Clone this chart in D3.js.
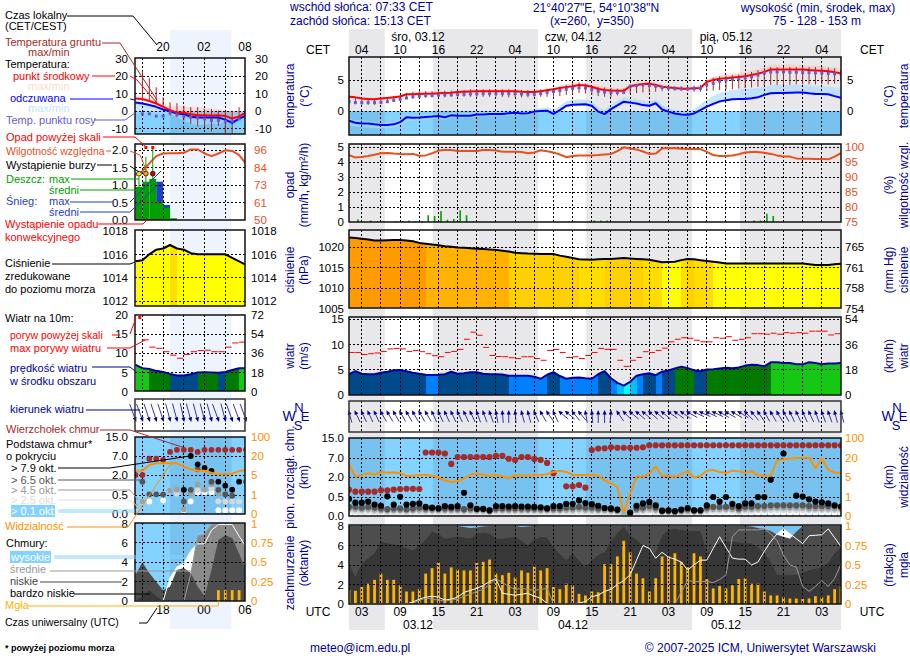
<!DOCTYPE html>
<html lang="pl">
<head>
<meta charset="utf-8">
<title>Meteogram</title>
<script src="https://cdnjs.cloudflare.com/ajax/libs/d3/7.8.5/d3.min.js"></script>
<style>
  body { margin: 0; background: #fff; }
  svg { display: block; font-family: "Liberation Sans", Arial, sans-serif; font-size: 12px; }
</style>
</head>
<body>
<svg id="chart" width="910" height="660"></svg>
<script>
// main forecast, one value per hour, first value is 01 UTC 03.12
var tMean = [2.3,2.2,2.0,1.95,1.9,2.0,2.1,2.2,2.35,2.7,
  2.72,2.75,2.78,2.8,2.85,2.9,2.95,3.05,3.1,3.15,
  3.2,3.2,3.2,3.2,3.2,3.2,3.2,3.1,3.05,3.05,
  3.2,3.35,3.5,3.7,3.85,4.0,4.2,4.1,3.9,3.55,
  3.4,3.3,3.25,3.25,4.0,4.2,4.35,4.4,4.2,3.9,
  3.8,3.7,3.6,3.6,3.65,3.7,4.7,5.0,5.2,5.3,
  5.4,5.5,5.6,5.8,6.0,6.3,6.7,6.7,6.7,6.7,
  6.7,6.7,6.6,6.55,6.5,6.4,6.25,6.1];
var tMax = [2.5,2.4,2.2,2.1,2.1,2.2,2.3,2.4,2.5,2.9,
  3.0,3.1,3.2,3.2,3.1,3.1,3.1,3.2,3.3,3.4,
  3.5,3.5,3.5,3.5,3.5,3.5,3.4,3.3,3.3,3.2,
  3.4,3.6,3.8,4.1,4.3,4.5,4.6,4.5,4.3,4.1,
  3.9,3.8,3.7,3.7,4.4,4.6,4.8,4.8,4.6,4.3,
  4.1,4.0,3.9,3.9,4.0,4.1,5.1,5.5,5.8,6.0,
  6.1,6.2,6.3,6.5,6.7,7.0,7.4,7.5,7.5,7.5,
  7.4,7.4,7.3,7.3,7.2,7.1,7.0,6.9];
var tMin = [2.2,2.1,1.9,1.85,1.8,1.9,2.0,2.1,2.25,2.6,
  2.6,2.65,2.7,2.7,2.75,2.8,2.85,2.95,3.0,3.05,
  3.1,3.1,3.1,3.1,3.1,3.1,3.1,3.0,2.95,2.95,
  3.1,3.25,3.4,3.6,3.75,3.9,4.1,4.0,3.8,3.45,
  3.3,3.2,3.15,3.15,3.9,4.1,4.25,4.3,4.1,3.8,
  3.7,3.6,3.5,3.5,3.55,3.6,4.6,4.9,5.1,5.2,
  5.3,5.4,5.5,5.7,5.9,6.2,6.6,6.6,6.6,6.6,
  6.6,6.6,6.5,6.45,6.4,6.3,6.15,6.0];
var dew = [1.5,1.35,1.35,1.35,1.35,1.4,1.5,1.7,1.9,2.1,
  2.3,2.4,2.5,2.5,2.55,2.6,2.6,2.65,2.7,2.75,
  2.75,2.8,2.8,2.8,2.8,2.8,2.8,2.75,2.7,2.7,
  2.8,3.0,3.15,3.3,3.5,3.65,3.75,3.7,3.45,3.2,
  3.05,3.0,3.0,3.0,3.9,4.1,4.2,4.1,4.0,3.8,
  3.7,3.6,3.55,3.55,3.6,3.65,4.2,4.45,4.8,5.0,
  5.1,5.2,5.3,5.5,5.8,6.1,6.3,6.3,6.3,6.25,
  6.25,6.2,6.2,6.15,6.1,6.05,6.0,6.0];
var groundMax = [2.3,2.1,1.9,1.9,1.9,2.0,2.2,2.4,2.6,2.9,
  3.1,3.2,3.2,3.2,3.2,3.3,3.3,3.4,3.4,3.5,
  3.5,3.5,3.5,3.5,3.5,3.5,3.5,3.4,3.4,3.4,
  3.5,3.6,3.7,3.9,4.2,4.5,4.6,4.4,4.1,3.9,
  3.8,3.7,3.6,3.6,4.3,4.4,4.5,4.6,4.4,4.1,
  4.0,4.0,4.0,4.0,4.1,4.2,5.0,5.4,5.6,5.7,
  5.8,5.9,6.0,6.3,6.6,6.9,7.1,7.1,7.1,7.1,
  7.1,7.1,7.1,7.1,7.1,7.0,6.9,6.6];
var groundMin = [1.5,1.1,1.0,1.0,1.0,1.1,1.3,1.5,1.7,1.9,
  2.0,2.1,2.1,2.2,2.2,2.2,2.3,2.3,2.3,2.3,
  2.3,2.3,2.3,2.3,2.3,2.2,2.2,2.2,2.2,2.3,
  2.3,2.3,2.3,2.4,2.6,2.7,2.9,2.8,2.6,2.4,
  2.3,2.3,2.5,2.8,2.85,2.9,3.0,3.0,3.1,3.2,
  3.3,3.3,3.3,3.2,3.1,3.1,3.2,3.3,3.4,3.5,
  3.5,3.6,3.7,3.8,3.9,4.0,4.2,4.2,4.2,4.2,
  4.3,4.3,4.3,4.3,4.3,4.3,4.4,4.9];
var feels = [-1.55,-1.9,-2.0,-2.0,-2.15,-2.25,-2.25,-2.15,-1.8,-1.0,
  -1.1,-1.05,-0.95,-0.9,-0.8,-1.0,-0.7,-0.75,-0.75,-0.75,
  -0.55,-0.55,-0.5,-0.5,-0.5,-0.35,-0.27,-0.4,-0.35,-0.1,
  0.0,0.05,-0.45,0.15,0.85,1.0,1.05,1.1,0.85,-0.1,
  -0.5,0.3,0.9,1.5,1.35,1.2,0.95,0.85,1.25,0.25,
  -0.1,-0.4,-0.55,-0.6,-0.4,0.15,0.7,1.15,1.55,1.75,
  1.9,1.95,1.95,2.05,2.2,2.6,2.85,2.9,2.9,2.95,
  3.0,3.0,2.85,2.75,2.75,2.7,2.4,2.15];
var feelsMax = [-1.2,-1.5,-1.6,-1.6,-1.8,-1.9,-1.9,-1.7,-1.3,-0.6,
  -0.7,-0.6,-0.5,-0.5,-0.4,-0.6,-0.3,-0.3,-0.3,-0.3,
  -0.1,-0.1,0.0,0.0,0.0,0.1,0.2,0.1,0.1,0.3,
  0.5,0.6,0.2,0.8,1.6,1.8,1.9,1.9,1.6,0.6,
  0.2,1.0,1.6,2.2,2.0,1.9,1.6,1.5,1.9,1.0,
  0.5,0.2,0.0,0.0,0.3,1.1,1.8,2.4,2.9,3.2,
  3.4,3.5,3.5,3.6,3.7,3.9,4.1,4.2,4.2,4.2,
  4.2,4.2,4.1,4.0,4.0,3.9,3.8,3.6];
var feelsMin = [-2.3,-2.5,-2.6,-2.7,-2.8,-2.8,-2.8,-2.7,-2.4,-1.6,
  -1.6,-1.5,-1.4,-1.3,-1.2,-1.4,-1.1,-1.1,-1.1,-1.1,
  -0.9,-0.9,-0.8,-0.8,-0.8,-0.7,-0.6,-0.7,-0.7,-0.4,
  -0.3,-0.2,-0.8,-0.2,0.6,0.8,0.8,0.9,0.6,-0.4,
  -0.8,0.0,0.6,1.2,1.1,1.0,0.7,0.6,1.0,0.0,
  -0.3,-0.6,-0.8,-0.8,-0.6,-0.1,0.5,0.9,1.3,1.5,
  1.7,1.8,1.8,1.9,2.0,2.4,2.7,2.7,2.7,2.8,
  2.8,2.8,2.7,2.6,2.6,2.5,2.2,1.9];
var rh = [97.3,96.5,96.7,97.0,97.4,97.9,98.0,97.8,97.7,97.6,
  97.7,97.1,97.2,97.9,98.8,99.0,99.0,98.7,98.7,98.7,
  98.7,99.0,99.0,98.8,98.4,98.4,98.4,98.3,97.9,98.2,
  98.9,98.6,98.2,97.5,96.6,97.0,97.2,97.2,97.2,97.3,
  97.5,97.7,98.6,99.9,99.5,99.2,98.5,97.7,97.8,99.5,
  99.7,99.6,99.4,99.3,99.3,99.3,98.4,97.3,97.0,97.0,
  97.2,97.6,98.2,98.3,98.3,98.1,97.7,97.2,96.8,96.8,
  96.2,96.1,96.1,96.0,96.0,95.9,96.8,98.0];
var rain = [0,.18,0,.1,.05,.05,0,.05,.05,.1,
  .05,.05,.45,.4,.73,.15,.2,.78,.45,.05,
  .02,.02,0,0,0,0,0,0,0,0,
  0,0,0,.02,.02,.02,.02,.02,.1,.1,
  .1,.02,0,0,0,0,0,0,0,0,
  0,0,0,0,0,0,0,0,0,0,
  0,0,.02,.1,.1,.55,.4,0,0,0,
  0,0,0,0,0,0,0,0];
var press = [1022.3,1022.2,1022.0,1021.8,1021.6,1021.6,1021.65,1021.7,1021.7,1021.6,
  1021.4,1021.0,1020.8,1020.6,1020.4,1020.2,1020.05,1019.9,1019.8,1019.7,
  1019.6,1019.5,1019.4,1019.3,1019.1,1018.9,1018.6,1018.5,1018.4,1018.35,
  1018.3,1018.3,1018.3,1017.9,1017.6,1017.3,1017.0,1016.95,1016.9,1017.0,
  1017.1,1017.1,1017.2,1017.3,1017.2,1017.1,1017.0,1016.9,1016.6,1016.3,
  1016.35,1016.4,1016.8,1017.1,1017.0,1016.8,1016.6,1016.4,1016.2,1016.0,
  1016.0,1016.0,1016.0,1016.0,1016.0,1016.0,1016.0,1016.0,1016.0,1016.0,
  1016.0,1016.0,1015.8,1015.6,1015.6,1015.6,1015.8,1015.9];
var gust = [8.4,8.4,8.0,8.15,8.3,8.6,9.1,9.2,9.1,8.6,
  8.8,8.55,8.15,7.75,7.55,8.4,8.6,9.0,11.0,12.4,
  11.8,9.4,7.8,7.6,7.55,7.35,7.2,7.55,7.55,7.2,
  6.85,8.8,9.0,8.4,7.4,7.55,7.2,7.8,8.4,9.2,
  9.0,9.0,6.85,5.65,6.85,7.4,8.55,8.4,8.8,9.25,
  10.5,11.0,11.3,11.2,10.8,10.5,10.5,11.3,11.2,11.5,
  10.8,11.0,11.3,12.1,12.1,12.0,12.2,12.0,12.3,12.2,
  12.3,12.2,12.6,12.6,12.6,11.85,12.1,12.2];
var wind = [4.1,4.7,4.2,4.1,4.1,4.4,4.6,4.9,4.95,4.7,
  4.4,4.2,3.98,3.95,4.0,4.1,4.6,4.2,4.3,4.5,
  4.5,4.2,4.1,4.1,4.05,3.8,3.8,3.8,3.8,3.6,
  3.2,4.0,4.5,3.75,3.2,3.4,3.45,3.3,3.2,4.1,
  4.7,3.3,2.4,1.85,2.6,3.8,4.1,4.3,3.9,4.6,
  4.85,5.25,5.6,5.3,4.9,4.7,5.05,5.1,5.25,5.4,
  5.3,5.45,5.8,5.95,5.9,5.65,6.45,6.45,6.3,6.3,
  6.05,6.05,6.45,6.3,6.05,6.2,6.2,6.3];
var windDir = [-15,-25,-25,-25,-25,-30,-30,-30,-30,-30,
  -30,-30,-30,-25,-25,-25,-25,-25,-25,-25,
  -20,-20,-20,-10,-5,0,-5,-15,-15,-25,
  -30,-35,-25,-50,-50,-40,-40,-10,-5,0,
  0,5,-35,-45,-50,-50,-50,-50,-50,-50,
  -55,-55,-55,-60,-65,-65,-65,-65,-60,-60,
  -60,-60,-45,-40,-35,-30,-30,-30,-30,-25,
  -25,-25,-25,-20,-20,-20,-15,-15];
var cloudTop = [1.05,.9,.9,.9,.9,1.0,1.0,1.05,1.1,1.12,
  1.12,1.1,9.2,9.2,9.2,8.8,5.45,7.4,7.4,7.4,
  7.4,7.4,7.4,7.9,7.9,6.8,6.5,7.4,7.4,6.75,
  6.5,5.7,3.0,null,1.3,1.3,1.4,1.2,10.2,10.8,
  10.9,11.3,11.1,11.1,11.1,11.1,11.3,12.1,12.1,12.1,
  12.1,12.1,12.1,12.1,12.1,12.1,12.1,12.1,12.1,12.1,
  12.1,12.1,12.1,12.1,12.1,12.1,12.1,12.1,12.1,12.1,
  12.1,12.1,12.1,12.1,12.1,12.1,12.1,12.1];
var base79 = [.45,.35,.35,.38,.3,.27,.55,.3,.52,.3,
  .32,.33,.24,.22,.2,.26,.24,.26,.82,.28,
  .19,.19,.15,.26,.26,.25,.26,.25,.25,.24,
  .23,.2,.26,.26,.32,.32,.41,.34,.31,.27,
  .21,.2,.17,null,.09,.27,.33,.37,.28,.14,
  .15,.13,.17,.21,.15,.15,.28,.5,.38,.5,
  .32,.26,.33,.33,.5,.5,1.8,null,8.8,null,
  .6,.53,.44,.38,.36,.33,.28,.25];
var base65 = [.24,.24,.22,.24,.22,.2,.18,.2,.2,.18,
  .2,.22,.2,.2,.2,.2,.2,.2,.18,.2,
  .18,.18,.15,.2,.2,.2,.2,.2,.2,.2,
  .2,.2,.2,.2,.22,.22,.24,.22,.22,.2,
  .2,.18,.16,null,.08,.2,.22,.26,.22,.14,
  .14,.12,.15,.18,.15,.15,.22,.24,.24,.24,
  .24,.2,.24,.24,.26,.26,.28,.28,.28,.28,
  .28,.28,.26,.26,.26,.26,.26,.24];
var base45 = [.19,.19,.18,.19,.17,.16,.15,.16,.16,.15,
  .16,.17,.16,.16,.16,.16,.16,.16,.15,.16,
  .15,.15,.12,.16,.16,.16,.16,.16,.16,.16,
  .16,.16,.16,.16,.17,.17,.19,.17,.17,.16,
  .16,.15,.13,null,.06,.16,.17,.2,.17,.11,
  .11,.1,.12,.14,.12,.12,.17,.19,.19,.19,
  .19,.16,.19,.19,.2,.2,.22,.22,.22,.22,
  .22,.22,.2,.2,.2,.2,.2,.19];
var base25 = [.13,.13,.12,.13,.12,.11,.1,.11,.11,.1,
  .11,.12,.11,.11,.11,.11,.11,.11,.1,.11,
  .1,.1,.09,.11,.11,.11,.11,.11,.11,.11,
  .11,.11,.11,.11,.12,.12,.13,.12,.12,.11,
  .11,.1,.09,null,.04,.11,.12,.14,.12,.08,
  .08,.07,.08,.1,.08,.08,.12,.14,.14,.14,
  .14,.11,.14,.14,.15,.15,.16,.16,.16,.16,
  .16,.16,.15,.15,.15,.15,.15,.14];
var base01 = [.07,.07,.06,.07,.06,.06,.05,.06,.06,.05,
  .06,.06,.06,.06,.06,.06,.06,.06,.05,.06,
  .05,.05,.05,.06,.06,.06,.06,.06,.06,.06,
  .06,.06,.06,.06,.06,.06,.07,.06,.06,.06,
  .06,.05,.05,null,.02,.06,.06,.07,.06,.04,
  .04,.04,.04,.05,.04,.04,.06,.07,.07,.07,
  .07,.06,.07,.07,.08,.08,.08,.08,.08,.08,
  .08,.08,.08,.08,.08,.08,.08,.07];
var visibility = [15.3,5.2,6.5,8,7,8.9,8.4,8.6,8,5.8,
  6,6.5,6.5,6,4.9,4.3,4,4.1,4.7,7,
  7.5,6.5,6,6.5,5.6,4.7,6.5,6.2,6.2,6.3,
  6.5,7.2,9,10,9,6.8,6.6,6.5,6.5,6.2,
  4.3,3.8,3,.15,1.7,5.3,5.3,7.6,13.3,5.8,
  6,5.1,7.3,9.6,4.9,6,10,10.5,9,8.1,
  10,9.5,8.4,9.5,6.5,6,6,18,19,19.5,
  20,20.5,21,12,20,10.5,8.4,8.4];
var cloudHigh = [0,0,0,0,0,0,0,0,0,0,
  .2,.5,.7,.8,.7,.4,.5,.7,1.2,1.4,
  1.6,1.9,2.3,2.6,1.1,1.0,.9,1.0,1.1,.8,
  .6,.05,0,0,0,0,.1,.25,.75,.9,
  1.3,1.5,2,2.4,3,4.5,6,5.7,4.7,5.3,
  4.8,4.6,4.3,3.5,4,4.5,4.5,5.7,6.9,5.8,
  4.7,4.6,4.6,4,4.3,5.4,6.4,7.2,7.7,7.2,
  6.7,6.2,7,7.05,7.1,7.7,6.8,5.9];
var cloudMid = [0,0,0,0,0,0,0,0,0,0,
  0,.4,.6,.5,.4,.3,.4,.5,.8,1.0,
  1.3,1.5,2,2.6,2.2,1.8,1.5,1.6,1.5,1.4,
  1.5,1.6,0,0,0,0,0,0,0,0,
  0,0,0,0,0,0,0,0,0,0,
  0,0,1.2,2.4,2.3,2.3,2.3,2.2,2.5,3,
  6.9,7.6,7.6,7.6,7.6,7.7,7.2,6.5,5,4,
  3.8,1.8,1.3,1.8,2.4,1.8,2.6,4.1];
var cloudLow = [8,8,8,8,8,8,8,8,8,8,
  8,8,8,8,8,8,8,8,7.9,7.8,
  7.85,7.95,8,8,8,8,8,7.9,7.95,8,
  8,8,8,8,8,8,8,8,8,8,
  8,8,8,8,8,8,8,8,8,8,
  8,8,8,8,8,8,8,8,8,8,
  8,8,8,7.95,7.8,7.7,7.5,7.1,6.9,6.7,
  7.4,8,8,8,8,8,8,8];
var cloudVeryLow = [4.1,2.8,4.1,4.7,5.2,6.4,6.2,6.1,6,5.7,
  5.5,6,6.6,7.4,7.2,6.7,6.8,6.9,6.8,6.7,
  7.2,7.3,7.2,6.7,6.7,6.8,6.9,6.5,6,6.6,
  6.9,6.8,5.8,5.1,4.5,5.2,4.4,3.8,4.5,5,
  5.3,6.4,7.3,7.9,7,6.6,6,5.6,5.2,7,
  7.6,7.7,7.6,7.5,7.5,7.5,5.2,5.8,6.3,6.4,
  6.4,6.3,6.2,6.2,5.8,5.2,4.3,3,3,3,
  3,3.2,3.5,3.6,3.8,4.2,5.2,5.8];
var fog = [.18,.17,.22,.26,.31,.39,.31,.31,.24,.16,
  .16,.19,.39,.46,.53,.39,.47,.44,.43,.43,
  .53,.54,.57,.39,.37,.4,.34,.43,.4,.48,
  .43,.46,.22,.19,.26,.24,.13,.11,.16,.15,
  .51,.51,.61,.81,.66,.39,.33,.16,.33,.61,
  .61,.65,.54,.47,.65,.61,.32,.2,.23,.2,
  .24,.32,.33,.26,.26,.16,.11,.11,.085,.07,
  .07,.065,.07,.1,.085,.11,.19,.22];

// legend panel, the last observed hours
var nowTMean = [7.3,6.9,5.8,4.4,2.5,.6,-.8,-.8,-1.7,-2.3,-2.3,-2.5,-2.3,-2.7,-4.2,-3,-.8];
var nowTMax = [9.4,8.3,7.2,5.8,4.4,3.4,3,2.6,2.3,2.3,2,1.5,1.2,.4,0,0,.5];
var nowTMin = [6.5,6,5,3.5,1.5,0,-1.5,-1.5,-2.5,-3,-3,-3.2,-3,-3.5,-5,-4,-1.5];
var nowDew = [null,-1.5,-1.5,-2.8,-2.8,-.9,-2,-3,-3.4,-3.8,-4.4,-5.3,-5.3,-5.7,-5.7,-4.4,-4.4];
var nowGroundMax = [null,23,19,13.7,8,5.1,4.6,3.1,2.3,2.3,1.3,1.3,.3,.3,.3,2.3,null];
var nowGroundMin = [null,6,6,4.4,3,-2.5,-3.4,-5.3,-7.2,-8.7,-9,-11.6,-8.4,-13,-13,-4.4,null];
var nowFeels = [5,4.4,3.5,2.5,1,0,-1.3,-1.7,-3.2,-3.6,-3.6,-3.6,-3.6,-4.8,-6.7,-4.2,-2.7];
var nowFeelsMax = [5.5,5,4,3,1.5,.5,-.8,-1.2,-2.7,-3,-3,-3,-3,-4.2,-6,-3.5,-2];
var nowFeelsMin = [-1,-1,-1,-1.2,-1.4,-1.5,-3.4,-5.3,-7.2,-8.2,-7.8,-7.2,-7.2,-6.3,-5.3,-2.5,-.6];
var nowRh = [79.6,81.8,87,92,93.8,94,94,94.3,96.6,96.6,93.8,92,93.8,96,95.6,92.7,86.8];
var nowRain = [.95,1.1,1.18,.52,.35,.05,0,0,0,0,0,0,0,0,0,0,0];
var nowSnow = [0,0,0,1.1,.43,0,0,0,0,0,0,0,0,0,0,0,0];
var nowRainMax = [1.25,1.81,2.1];
var nowStorm = [1,2,3];
var nowOverScale = [0,1,1];
var nowConvective = [1,1,1,1,0,0,0,0,0,0,0,0,0,0,0,0,0];
var nowPress = [1015.4,1015.5,1016,1016.4,1016.5,1016.8,1016.5,1016.4,1016.1,1016,1016,1016,1016,1016,1015.7,1015.4,1015.1];
var nowGust = [null,13.5,11.6,11.3,10.4,9.5,8.7,9.7,10.4,10.7,10.8,10.4,10.4,11.6,12.7,12.9,12.9];
var nowWind = [6.95,6.1,5.9,5.4,5.1,4.6,4.2,4.2,4.5,5,5.05,5,4.9,5.1,5.6,6.1,6.1];
var nowDir = [160,160,162,162,162,165,165,168,165,165,165,165,160,165,160,160,160];
var nowTop = [2,2,6.3,6.3,6,8.7,9.6,9.6,9.6,8.7,9.6,9.6,9.6,9.6,9.6,9.6,9.6];
var nowB79 = [null,null,null,null,null,null,null,.89,7,4.8,3.9,3.1,1.5,1.2,.9,1.5,null];
var nowB65 = [null,1.5,.55,.55,.55,null,null,.33,.89,3.5,null,1.5,.89,.55,.48,null,1.5];
var nowB45 = [.2,.33,null,null,null,.85,.9,.12,.6,1.3,.9,1.3,.6,.6,null,null,null];
var nowB25 = [.17,null,null,null,.6,.85,.6,null,null,.85,null,1,.33,.33,.33,.33,null];
var nowB01 = [null,.33,.33,null,.36,null,null,.1,.33,.7,.7,.7,.1,.1,.1,.1,null];
var nowVis = [8.4,8.4,12.9,14.2,14.2,14.2,14.2,11.6,9.5,8.4,8.4,6.8,5.5,5.5,6,8.1,8.9];
var nowHigh = [0,0,0,0,0,2.4,3.5,3.9,5.2,5.9,5.9,7.3,7.9,7.9,7.9,6.7,5.6];
var nowMid = [0,0,0,0,0,0,0,0,2.8,6.7,6.9,7.9,8,8,8,8,8];
var nowLow = [2.7,4,2.9,2,1.1,1.5,3.2,3.4,2.9,1.5,.5,3.2,6.3,6.8,6.5,4.9,3.2];
var nowVeryLow = [0,.5,1.1,.5,0,0,0,0,0,0,0,0,0,0,0,0,0];
var nowFog = [0,0,0,0,0,0,0,0,0,0,0,0,.14,.14,.14,.14,0];

// ticks and labels
var cetLabels = ["04","10","16","22","04","10","16","22","04","10","16","22","04"];
var utcLabels = ["03","09","15","21","03","09","15","21","03","09","15","21","03"];
var nightFrom = [0,13.15,37.1,61.2];
var nightTo = [5.6,29.6,53.7,77];
var tempTicks = [0,5];
var rainTicks = [0,1,2,3,4,5];
var rhTicks = [75,80,85,90,95,100];
var pressTicks = [1005,1010,1015,1020];
var mmHgLabels = ["754","758","761","765"];
var windTicks = [0,5,10,15];
var kmhLabels = ["0","18","36","54"];
var baseTicks = [0,.5,2,7,15];
var visTicks = [0,1,5,20,100];
var coverTicks = [0,2,4,6,8];
var fogTicks = [0,.25,.5,.75,1];
var nowTempTicks = [-10,0,10,20,30];
var nowRainTicks = [0,.5,1,1.5,2];
var nowRhLabels = ["50","61","73","84","96"];
var nowPressTicks = [1012,1014,1016,1018];
var nowWindTicks = [0,5,10,15,20];
var nowKmhLabels = ["0","18","36","54","72"];

var svg = d3.select("#chart");
var navy = "#000099", rhColor = "#e8501e", visColor = "#ff9000";

function pressColor(v) {
  return d3.scaleThreshold().domain([1016.6,1017.05,1018.95,1021])
    .range(["#ffff00","#ffdd00","#ffd000","#ffb300","#ff9a00"])(v);
}
function windColor(v) {
  return d3.scaleThreshold().domain([2,3,4,5,6])
    .range(["#00ffff","#00c0ff","#0080ff","#004a8c","#007b00","#14c814"])(v);
}

function txt(s, x, y, color, anchor, size) {
  return svg.append("text").attr("x", x).attr("y", y).attr("dy", "0.35em")
    .attr("fill", color || "#000").attr("text-anchor", anchor || "start")
    .attr("font-size", size || 12).text(s);
}
function vtxt(s, x, y) {
  return svg.append("text").attr("transform", "translate(" + x + "," + y + ") rotate(-90)")
    .attr("dy", "0.35em").attr("fill", navy).attr("text-anchor", "middle").text(s);
}
function leader(points, color) {
  svg.append("path").attr("fill", "none").attr("stroke", color || "#000").attr("stroke-width", 1)
    .attr("d", d3.line()(points));
}

// tick labels go through a d3 axis, the domain line and tick marks are dropped
function labels(side, scale, values, x, color, names) {
  var axis = (side == "left" ? d3.axisLeft(scale) : d3.axisRight(scale))
    .tickValues(values).tickSize(0).tickPadding(0)
    .tickFormat(function (d, i) { return names ? names[i] : d; });
  var g = svg.append("g").attr("transform", "translate(" + x + ",0)").call(axis);
  g.select(".domain").remove();
  g.attr("font-size", 11.5).attr("font-family", null);
  g.selectAll("text").attr("fill", color || "#000");
}

function drawView(v) {
  var x = v.x;
  var hours = d3.range(v.data.mean.length);
  var clipId = 0;
  var d = v.data;

  function panel(box) {
    var id = v.name + (clipId++);
    svg.append("clipPath").attr("id", id).append("rect")
      .attr("x", v.left).attr("y", box[0]).attr("width", v.right - v.left).attr("height", box[1] - box[0]);
    return svg.append("g").attr("clip-path", "url(#" + id + ")");
  }
  function grid(g, box, y, ticks) {
    g.selectAll(null).data(v.gridHours).enter().append("line")
      .attr("x1", x).attr("x2", x).attr("y1", box[0]).attr("y2", box[1])
      .attr("stroke", "#000").attr("stroke-dasharray", "2,2").attr("shape-rendering", "crispEdges");
    if (y) g.selectAll(null).data(ticks).enter().append("line")
      .attr("x1", v.left).attr("x2", v.right).attr("y1", y).attr("y2", y)
      .attr("stroke", "#000").attr("stroke-dasharray", "2,2").attr("shape-rendering", "crispEdges");
  }
  function frame(box, color) {
    svg.append("rect").attr("x", v.left).attr("y", box[0]).attr("width", v.right - v.left)
      .attr("height", box[1] - box[0]).attr("fill", "none")
      .attr("stroke", color || "#111").attr("stroke-width", 1.5);
  }
  function nightOn(g, box) {
    g.selectAll(null).data(v.nightFrom).enter().append("rect")
      .attr("x", x).attr("width", function (n, i) { return x(v.nightTo[i]) - x(n); })
      .attr("y", box[0]).attr("height", box[1] - box[0]).attr("fill", "rgba(0,30,90,0.09)");
  }
  function curve(g, values, y, color, w) {
    g.append("path").datum(values).attr("fill", "none").attr("stroke", color).attr("stroke-width", w)
      .attr("stroke-linejoin", "round")
      .attr("d", d3.line().x(function (p, i) { return x(i); }).y(function (p) { return y(p); }));
  }
  function band(g, hi, lo, y, color) {
    g.append("path").datum(hours).attr("fill", color)
      .attr("d", d3.area().x(function (i) { return x(i); })
        .y0(function (i) { return y(lo[i]); }).y1(function (i) { return y(hi[i]); }));
  }
  function columns(g, values, colorOf, y, bottom) {
    hours.slice(0, -1).forEach(function (i) {
      g.append("path").attr("fill", colorOf(values[i])).attr("shape-rendering", "crispEdges")
        .attr("d", d3.area().x(function (p) { return x(p); }).y0(bottom)
          .y1(function (p) { return y(values[p]); })([i, i + 1]));
    });
  }
  function steps(g, values, y, color) {
    g.selectAll(null).data(hours).enter().filter(function (i) { return values[i] > 0; }).append("rect")
      .attr("x", function (i) { return x(i); }).attr("width", x(1) - x(0))
      .attr("y", function (i) { return y(values[i]); })
      .attr("height", function (i) { return y(0) - y(values[i]); }).attr("fill", color);
  }

  // temperature
  var box = v.temp, g = panel(box), y = v.yTemp;
  g.append("rect").attr("x", v.left).attr("width", v.right - v.left).attr("y", y(0)).attr("height", box[1] - y(0)).attr("fill", "#84d2ff");
  nightOn(g, [y(0), box[1]]);
  band(g, d.tMax, d.tMin, y, "rgba(255,170,160,0.35)");
  band(g, d.feelsMax, d.feelsMin, y, "rgba(170,218,255,0.65)");
  grid(g, box, y, v.tempTicks);
  g.selectAll(null).data(hours).enter().filter(function (i) { return d.groundMax[i] != null; }).append("line")
    .attr("x1", x).attr("x2", x)
    .attr("y1", function (i) { return y(d.groundMax[i]); }).attr("y2", function (i) { return y(d.groundMin[i]); })
    .attr("stroke", "#a52a2a");
  curve(g, d.feels, y, "#0000ff", 2);
  curve(g, d.mean, y, "#ff0000", 2);
  g.selectAll(null).data(hours).enter().filter(function (i) { return d.dew[i] != null; }).append("rect")
    .attr("x", function (i) { return x(i) - 1.5; }).attr("y", function (i) { return y(d.dew[i]) - 1.5; })
    .attr("width", 3).attr("height", 3).attr("fill", "#6a5acd");
  frame(box);

  // precipitation and humidity
  box = v.prec; g = panel(box); y = v.yRain;
  if (d.snow) { steps(g, d.snow, y, "#1f3fc8"); steps(g, d.rain, y, "#00a000"); }
  else g.selectAll(null).data(hours).enter().append("rect")
    .attr("x", function (i) { return x(i + .4) - .8; }).attr("width", 1.6)
    .attr("y", function (i) { return y(d.rain[i]); })
    .attr("height", function (i) { return y(0) - y(d.rain[i]); }).attr("fill", "#00a000");
  grid(g, box, y, v.rainTicks);
  curve(g, d.rh, v.yRh, rhColor, 2);
  if (d.snow) {
    g.selectAll(null).data(nowRainMax).enter().append("line")
      .attr("x1", function (m, i) { return x(i + .5); }).attr("x2", function (m, i) { return x(i + .5); })
      .attr("y1", function (m) { return y(m); }).attr("y2", y(.95)).attr("stroke", "#00a000");
    g.selectAll(null).data(nowOverScale).enter().filter(function (o) { return o; }).append("rect")
      .attr("x", function (o, i) { return x(i + 1.5) - 1.5; }).attr("y", box[0] + 2).attr("width", 3).attr("height", 3).attr("fill", "#ff0000");
    g.selectAll(null).data(nowStorm).enter().append("circle")
      .attr("cx", function (s, i) { return x(i + .5); }).attr("cy", y(1.33)).attr("r", 2.4)
      .attr("fill", function (s) { return ["#ffee00", "#ffa000", "#e00000"][s - 1]; }).attr("stroke", "#000").attr("stroke-width", .7);
    g.selectAll(null).data(nowConvective).enter().filter(function (c) { return c; }).append("line")
      .attr("x1", function (c, i) { return x(i); }).attr("x2", function (c, i) { return x(i + 1); })
      .attr("y1", box[1] - .5).attr("y2", box[1] - .5).attr("stroke", "#ff0000").attr("stroke-dasharray", "3,2");
  }
  frame(box);

  // pressure
  box = v.press; g = panel(box); y = v.yPress;
  columns(g, d.press, pressColor, y, box[1]);
  grid(g, box, y, v.pressTicks);
  curve(g, d.press, y, "#000", 2);
  frame(box);

  // wind
  box = v.wind; g = panel(box); y = v.yWind;
  columns(g, d.wind, windColor, y, box[1]);
  grid(g, box, y, v.windTicks);
  g.selectAll(null).data(hours).enter().filter(function (i) { return d.gust[i] != null; }).append("line")
    .attr("x1", x).attr("x2", function (i) { return x(i + 1) - .6; })
    .attr("y1", function (i) { return y(d.gust[i]); }).attr("y2", function (i) { return y(d.gust[i]); })
    .attr("stroke", "#ff0000");
  curve(g, d.wind, y, "#0000a0", 2);
  frame(box);

  // wind direction
  box = v.dir;
  g = svg.append("g");
  grid(g, box);
  frame(box, "#333");
  hours.forEach(function (i) {
    var a = d.dir[i] * Math.PI / 180, hx = x(i), hy = v.arrowY;
    var ux = Math.sin(a), uy = -Math.cos(a);
    g.append("line").attr("x1", hx).attr("y1", hy).attr("x2", hx - ux * v.arrowLen).attr("y2", hy - uy * v.arrowLen)
      .attr("stroke", "#2020a0").attr("stroke-width", .9);
    g.append("path").attr("fill", "#000090").attr("d", d3.line()([
      [hx + ux * 2, hy + uy * 2],
      [hx - ux * 2.5 + uy * 2, hy - uy * 2.5 - ux * 2],
      [hx - ux * 2.5 - uy * 2, hy - uy * 2.5 + ux * 2]
    ]));
  });

  // cloud base, cloud top and visibility
  box = v.base; g = panel(box); y = v.yBase;
  g.append("rect").attr("x", v.left).attr("width", v.right - v.left).attr("y", box[0]).attr("height", box[1] - box[0]).attr("fill", "#84d2ff");
  nightOn(g, box);
  grid(g, box, y, baseTicks.slice(1, 4));
  [[d.b01, "#fff"], [d.b25, "#d8d8d8"], [d.b45, "#a0a0a0"], [d.b65, "#555"], [d.b79, "#000"], [d.top, "#a52a2a"]].forEach(function (s) {
    hours.forEach(function (i) {
      if (s[0][i] != null) g.append("circle").attr("cx", x(i)).attr("cy", y(s[0][i])).attr("r", v.dotR).attr("fill", s[1]);
    });
  });
  curve(g, d.vis, v.yVis, visColor, 2);
  frame(box);

  // cloud cover and fog
  box = v.cover; g = panel(box); y = v.yCover;
  g.append("rect").attr("x", v.left).attr("width", v.right - v.left).attr("y", box[0]).attr("height", box[1] - box[0]).attr("fill", "#84d2ff");
  nightOn(g, box);
  var zero = hours.map(function () { return 0; });
  band(g, d.high, zero, y, "#fff");
  band(g, d.mid, zero, y, "#8a8a8a");
  band(g, d.low, zero, y, "#4d4d4d");
  band(g, d.veryLow, zero, y, "#383838");
  g.selectAll(null).data(hours).enter().filter(function (i) { return d.fog[i] > 0; }).append("rect")
    .attr("x", function (i) { return x(i) - 1.4; }).attr("width", 2.8)
    .attr("y", function (i) { return v.yFog(d.fog[i]); })
    .attr("height", function (i) { return v.yFog(0) - v.yFog(d.fog[i]); }).attr("fill", "#ffb400");
  grid(g, box, y, coverTicks.slice(1, 4));
  curve(g, d.high, y, "#fff", 1);
  curve(g, d.mid, y, "#999", 1);
  frame(box);
}

// night bands go behind everything
var mainX = d3.scaleLinear().domain([0, 77]).range([349, 841]);
var nowX = d3.scaleLinear().domain([0, 16]).range([135.5, 246]);

svg.selectAll(null).data(nightFrom).enter().append("rect")
  .attr("x", function (d) { return mainX(d); })
  .attr("width", function (d, i) { return mainX(nightTo[i]) - mainX(d); })
  .attr("y", 29).attr("height", 601).attr("fill", "#e8e8ea");
svg.append("rect").attr("x", 340).attr("y", 136).attr("width", 510).attr("height", 7).attr("fill", "#fff");
svg.append("rect").attr("x", nowX(5)).attr("width", nowX(13.9) - nowX(5))
  .attr("y", 30).attr("height", 599).attr("fill", "#eef4fd");

var mainView = {
  name: "main", x: mainX, left: 349, right: 841,
  temp: [57, 135], prec: [144, 222], press: [230, 308], wind: [317, 395], dir: [401, 432], base: [438, 516], cover: [525, 604],
  gridHours: d3.range(2, 77, 3), nightFrom: nightFrom, nightTo: nightTo,
  yTemp: d3.scaleLinear().domain([0, 5]).range([111, 80]),
  yRain: d3.scaleLinear().domain([0, 5]).range([222, 147]),
  yRh: d3.scaleLinear().domain([75, 100]).range([222, 147]),
  yPress: d3.scaleLinear().domain([1005, 1020]).range([308.6, 247]),
  yWind: d3.scaleLinear().domain([0, 15]).range([395, 319]),
  yBase: d3.scaleLinear().domain(baseTicks).range([516, 497, 477, 458, 438]),
  yVis: d3.scaleLinear().domain(visTicks).range([516, 497, 477, 458, 438]),
  yCover: d3.scaleLinear().domain([0, 8]).range([604, 526]),
  yFog: d3.scaleLinear().domain([0, 1]).range([604, 526]),
  tempTicks: tempTicks, rainTicks: rainTicks.slice(1), pressTicks: pressTicks.slice(1), windTicks: windTicks.slice(1),
  arrowY: 412, arrowLen: 11, dotR: 3.1,
  data: { mean: tMean, tMax: tMax, tMin: tMin, dew: dew, groundMax: groundMax, groundMin: groundMin, feels: feels, feelsMax: feelsMax, feelsMin: feelsMin,
    rh: rh, rain: rain, press: press, gust: gust, wind: wind, dir: windDir, top: cloudTop,
    b79: base79, b65: base65, b45: base45, b25: base25, b01: base01, vis: visibility,
    high: cloudHigh, mid: cloudMid, low: cloudLow, veryLow: cloudVeryLow, fog: fog }
};
var nowView = {
  name: "now", x: nowX, left: 135, right: 245,
  temp: [58, 134], prec: [144, 220], press: [230, 306], wind: [315, 391], dir: [399, 431], base: [437, 514], cover: [523, 601],
  gridHours: [1, 4, 7, 10, 13], nightFrom: [5], nightTo: [13.9],
  yTemp: d3.scaleLinear().domain([-10, 30]).range([128.7, 58.7]),
  yRain: d3.scaleLinear().domain([0, 2]).range([220, 150.3]),
  yRh: d3.scaleLinear().domain([50, 61, 73, 84, 96]).range([220, 202.6, 185.2, 167.8, 150.3]),
  yPress: d3.scaleLinear().domain([1012, 1018]).range([301, 231]),
  yWind: d3.scaleLinear().domain([0, 20]).range([391.5, 315]),
  yBase: d3.scaleLinear().domain(baseTicks).range([514, 495, 475, 456, 437]),
  yVis: d3.scaleLinear().domain(visTicks).range([514, 495, 475, 456, 437]),
  yCover: d3.scaleLinear().domain([0, 8]).range([601, 523.5]),
  yFog: d3.scaleLinear().domain([0, 1]).range([601, 523.5]),
  tempTicks: [-10, 0, 10, 20], rainTicks: [.5, 1, 1.5, 2], pressTicks: [1012, 1014, 1016], windTicks: [5, 10, 15],
  arrowY: 420, arrowLen: 17, dotR: 2.9,
  data: { mean: nowTMean, tMax: nowTMax, tMin: nowTMin, dew: nowDew, groundMax: nowGroundMax, groundMin: nowGroundMin, feels: nowFeels, feelsMax: nowFeelsMax, feelsMin: nowFeelsMin,
    rh: nowRh, rain: nowRain, snow: nowSnow, press: nowPress, gust: nowGust, wind: nowWind, dir: nowDir, top: nowTop,
    b79: nowB79, b65: nowB65, b45: nowB45, b25: nowB25, b01: nowB01, vis: nowVis,
    high: nowHigh, mid: nowMid, low: nowLow, veryLow: nowVeryLow, fog: nowFog }
};

drawView(nowView);
drawView(mainView);

// over-scale gust in the legend panel
svg.append("rect").attr("x", nowX(.55) - 1).attr("y", 316).attr("width", 3).attr("height", 3).attr("fill", "#ff0000");

// main axes
labels("left", mainView.yTemp, tempTicks, 344);
labels("right", mainView.yTemp, tempTicks, 847);
labels("left", mainView.yRain, rainTicks, 344);
labels("right", mainView.yRh, rhTicks, 845, rhColor);
labels("left", mainView.yPress, pressTicks, 344);
labels("right", mainView.yPress, pressTicks, 845, "#000", mmHgLabels);
labels("left", mainView.yWind, windTicks, 344);
labels("right", mainView.yWind, windTicks, 845, "#000", kmhLabels);
labels("left", mainView.yBase, baseTicks, 344, "#000", ["0.0", "0.5", "2.0", "7.0", "15.0"]);
labels("right", mainView.yVis, visTicks, 845, visColor);
labels("left", mainView.yCover, coverTicks, 344);
labels("right", mainView.yFog, fogTicks, 845, visColor);

// legend panel axes
labels("left", nowView.yTemp, nowTempTicks, 128);
labels("right", nowView.yTemp, nowTempTicks, 255);
labels("left", nowView.yRain, nowRainTicks, 128, "#000", ["0.0", "0.5", "1.0", "1.5", "2.0"]);
labels("right", nowView.yRain, nowRainTicks, 254, rhColor, nowRhLabels);
labels("left", nowView.yPress, nowPressTicks, 128);
labels("right", nowView.yPress, nowPressTicks, 251);
labels("left", nowView.yWind, nowWindTicks, 128);
labels("right", nowView.yWind, nowWindTicks, 251, "#000", nowKmhLabels);
labels("left", nowView.yBase, baseTicks, 128, "#000", ["0.0", "0.5", "2.0", "7.0", "15.0"]);
labels("right", nowView.yVis, visTicks, 251, visColor);
labels("left", nowView.yCover, coverTicks, 128);
labels("right", nowView.yFog, fogTicks, 251, visColor);

// time labels
cetLabels.forEach(function (s, i) { txt(s, mainX(2 + i * 6), 50, "#000", "middle"); });
utcLabels.forEach(function (s, i) { txt(s, mainX(2 + i * 6), 612, "#000", "middle"); });
txt("CET", 318, 50, "#000", "middle"); txt("CET", 872, 50, "#000", "middle");
txt("UTC", 318, 612, "#000", "middle"); txt("UTC", 872, 612, "#000", "middle");
txt("śro, 03.12", 418, 37, "#000", "middle"); txt("czw, 04.12", 573, 37, "#000", "middle"); txt("pią, 05.12", 726, 37, "#000", "middle");
txt("03.12", 418, 625, "#000", "middle"); txt("04.12", 573, 625, "#000", "middle"); txt("05.12", 726, 625, "#000", "middle");
[["20", 163], ["02", 204], ["08", 245]].forEach(function (s) { txt(s[0], s[1], 47, "#000", "middle"); });
[["18", 163], ["00", 204], ["06", 245]].forEach(function (s) { txt(s[0], s[1], 610, "#000", "middle"); });

// header and footer
txt("wschód słońca: 07:33 CET", 290, 7, navy);
txt("zachód słońca: 15:13 CET", 290, 21, navy);
txt("21°40'27\"E, 54°10'38\"N", 596, 8, navy, "middle");
txt("(x=260,\u00a0\u00a0y=350)", 592, 21, navy, "middle");
txt("wysokość (min, środek, max)", 818, 8, navy, "middle");
txt("75 - 128 - 153 m", 817, 21, navy, "middle");
txt("meteo@icm.edu.pl", 310, 648, navy);
txt("© 2007-2025 ICM, Uniwersytet Warszawski", 876, 648, navy, "end");
txt("* powyżej poziomu morza", 5, 648, "#000", "start", 9).attr("font-weight", "bold");

// panel titles
vtxt("temperatura", 290, 96); vtxt("(°C)", 305, 96);
vtxt("opad", 290, 185); vtxt("(mm/h, kg/m²/h)", 304, 185);
vtxt("ciśnienie", 290, 270); vtxt("(hPa)", 304, 270);
vtxt("wiatr", 290, 356); vtxt("(m/s)", 304, 356);
vtxt("pion. rozciągł. chm.", 290, 477); vtxt("(km)", 304, 477);
vtxt("zachmurzenie", 290, 573); vtxt("(oktanty)", 304, 563);
vtxt("(°C)", 889, 96); vtxt("temperatura", 904, 96);
vtxt("(%)", 889, 185); vtxt("wilgotność wzgl.", 904, 185);
vtxt("(mm Hg)", 889, 270); vtxt("ciśnienie", 904, 270);
vtxt("(km/h)", 889, 356); vtxt("wiatr", 904, 356);
vtxt("(km)", 889, 477); vtxt("widzialność", 904, 477);
vtxt("(frakcja)", 889, 565); vtxt("mgła", 904, 565);

// compass rose next to the direction panels
[[289, 299], [888, 897]].forEach(function (c) {
  txt("W", c[0], 416, navy, "middle", 14);
  txt("N", c[1], 407, navy, "middle", 13);
  txt("S", c[1] - 1, 425, navy, "middle", 13);
  txt("E", c[1] + 6, 416, navy, "middle", 13);
});

// legend texts, text, x, y, colour
var legendTexts = [
  ["Czas lokalny", 5, 15, "#000"], ["(CET/CEST)", 5, 26, "#000"],
  ["Temperatura gruntu", 5, 42, "#a52a2a"], ["max/min", 28, 52, "#a52a2a"],
  ["Temperatura:", 5, 64, "#000"], ["punkt środkowy", 13, 76, "#f00"], ["max/min", 28, 86, "#fddccc"],
  ["odczuwana", 10, 98, "#00f"], ["max/min", 28, 108, "#bfe4ff"], ["Temp. punktu rosy", 6, 120, "#6a5acd"],
  ["Opad powyżej skali", 6, 137, "#f00"], ["Wilgotność względna", 6, 151, rhColor], ["Wystąpienie burzy", 6, 165, "#000"],
  ["Deszcz:", 6, 179, "#00a000"], ["max", 49, 179, "#00a000"], ["średni", 49, 190, "#00a000"],
  ["Śnieg:", 6, 201, "#1f3fc8"], ["max", 49, 201, "#1f3fc8"], ["średni", 49, 212, "#1f3fc8"],
  ["Wystąpienie opadu", 5, 224, "#f00"], ["konwekcyjnego", 5, 237, "#f00"],
  ["Ciśnienie", 5, 263, "#000"], ["zredukowane", 5, 276, "#000"], ["do poziomu morza", 5, 289, "#000"],
  ["Wiatr na 10m:", 5, 318, "#000"], ["poryw powyżej skali", 10, 335, "#f00"], ["max porywy wiatru", 10, 348, "#f00"],
  ["prędkość wiatru", 10, 368, "#0000a0"], ["w środku obszaru", 10, 381, "#0000a0"], ["kierunek wiatru", 10, 409, "#0000a0"],
  ["Wierzchołek chmur", 6, 429, "#a52a2a"], ["Podstawa chmur*", 6, 444, "#000"], ["o pokryciu", 6, 456, "#000"],
  ["> 7.9 okt.", 11, 468, "#000"], ["> 6.5 okt.", 11, 480, "#555"], ["> 4.5 okt.", 11, 490, "#999"], ["> 2.5 okt.", 11, 500, "#ddd"],
  ["Widzialność", 5, 526, visColor], ["Chmury:", 6, 543, "#000"],
  ["średnie", 10, 569, "#999"], ["niskie", 10, 581, "#444"], ["bardzo niskie", 10, 593, "#000"],
  ["Mgła", 5, 605, "#ffb400"], ["Czas uniwersalny (UTC)", 5, 622, "#000"]
];
var legendLeaders = [
  [[[67,16],[133,16],[157,45]], "#000"],
  [[[102,43],[120,43],[157,100]], "#a52a2a"],
  [[[92,76],[115,76]], "#f00"], [[[130,76],[137,80],[157,103]], "#f00"],
  [[[70,99],[113,99]], "#00f"], [[[130,99],[135,100]], "#00f"],
  [[[94,120],[125,120],[135,113]], "#6a5acd"],
  [[[103,137],[135,137],[146,147]], "#f00"],
  [[[106,151],[111,151]], rhColor], [[[130,151],[140,155],[147,172]], rhColor],
  [[[97,165],[112,165]], "#000"], [[[130,166],[139,172]], "#000"],
  [[[71,179],[139,179]], "#00a000"], [[[80,190],[140,190]], "#00a000"],
  [[[70,202],[113,202]], "#1f3fc8"], [[[130,202],[161,171]], "#1f3fc8"],
  [[[80,212],[130,212],[161,182]], "#1f3fc8"],
  [[[98,224],[143,224],[147,220]], "#f00"],
  [[[52,264],[130,264],[135,262]], "#000"],
  [[[112,335],[120,335]], "#f00"], [[[130,334],[136,318]], "#f00"],
  [[[107,348],[130,348],[145,340]], "#f00"],
  [[[92,367],[130,367],[135,371]], "#0000a0"],
  [[[86,410],[140,410]], "#0000a0"],
  [[[100,430],[130,430],[185,448]], "#a52a2a"],
  [[[58,468],[110,468],[190,456]], "#000"],
  [[[58,480],[143,480]], "#555"],
  [[[58,490],[130,490],[138,500]], "#999"],
  [[[58,500],[130,500],[138,507]], "#ddd"],
  [[[58,510],[135,510]], "#84d2ff"], [[[58,512],[135,512]], "#84d2ff"],
  [[[67,527],[128,527],[172,462]], visColor],
  [[[54,556],[185,556]], "#84d2ff"], [[[54,558],[185,558]], "#84d2ff"],
  [[[50,571],[192,571]], "#999"],
  [[[40,582],[122,582]], "#444"],
  [[[74,594],[150,594]], "#000"],
  [[[28,606],[218,606],[219,601]], "#ffb400"],
  [[[139,623],[147,623],[157,608]], "#000"]
];
legendLeaders.forEach(function (l) { leader(l[0], l[1]); });
legendTexts.forEach(function (t) {
  txt(t[0], t[1], t[2], t[3], "start", t[0].length > 18 ? 10.5 : 11);
});

svg.append("rect").attr("x", 11).attr("y", 505).attr("width", 44).attr("height", 12).attr("fill", "#84d2ff");
txt("> 0.1 okt.", 11, 511, "#fff", "start", 11);
svg.append("rect").attr("x", 10).attr("y", 551).attr("width", 41).attr("height", 12).attr("fill", "#84d2ff");
txt("wysokie", 11, 557, "#fff", "start", 11);
</script>
</body>
</html>
